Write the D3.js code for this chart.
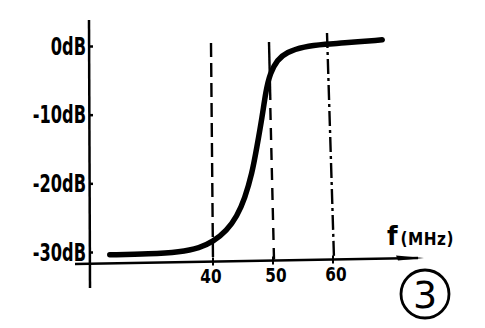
<!DOCTYPE html>
<html><head><meta charset="utf-8">
<script src="https://cdn.jsdelivr.net/npm/d3@7"></script>
<style>body{margin:0;background:#fff}svg{display:block}</style>
</head><body>
<script>
const freq = [22.8, 29.5, 34.5, 37.8, 40, 42.3, 44, 45.3, 46.5, 47.3, 48.2, 48.8, 49.5, 50.7, 52.3, 55, 59, 61.2, 68.2];
const gain = [-30.4, -30.3, -30.0, -29.4, -28.5, -26.9, -24.8, -22.2, -18.6, -14.8, -10.3, -6.6, -4.0, -2.0, -0.9, -0.1, 0.3, 0.4, 0.9];
const yTicks = [0, -10, -20, -30];
const yTickLabels = ["0dB", "-10dB", "-20dB", "-30dB"];
const xTicks = [40, 50, 60];
const markerLines = [40, 50, 60];

const W = 485, H = 328;
const svg = d3.select("body").append("svg").attr("width", W).attr("height", H);

const x = d3.scaleLinear().domain([40, 50]).range([213, 273]);
const y = d3.scaleLinear().domain([0, -30]).range([46, 252]);
const axisX = 89;
const font = "'DejaVu Sans Condensed','DejaVu Sans',sans-serif";
const axisYAt = px => 264 - (px - 75) * 6 / 345;
function squeeze(sel, k) {
  sel.each(function () {
    const w = this.getComputedTextLength();
    d3.select(this).attr("textLength", w * k).attr("lengthAdjust", "spacingAndGlyphs");
  });
}

// y axis
svg.append("line").attr("x1", axisX).attr("x2", axisX + 1).attr("y1", 20).attr("y2", 288)
  .attr("stroke", "#000").attr("stroke-width", 2.5);
// x axis
svg.append("line").attr("x1", 75).attr("x2", 418).attr("y1", axisYAt(75)).attr("y2", axisYAt(418))
  .attr("stroke", "#000").attr("stroke-width", 2.5);
svg.append("path").attr("d", `M396,${axisYAt(396)-3} L424,${axisYAt(424)} L398,${axisYAt(398)+2} Z`).attr("fill", "#000");

// y ticks
const yAx = svg.append("g").attr("transform", `translate(${axisX},0)`)
  .call(d3.axisLeft(y).tickValues(yTicks).tickSize(-4).tickPadding(3).tickFormat((d, i) => yTickLabels[i]));
yAx.select(".domain").remove();
yAx.selectAll(".tick line").attr("stroke", "#000").attr("stroke-width", 2.5);
yAx.selectAll(".tick text").attr("font-family", font).attr("font-weight", "bold")
  .attr("font-size", 25).attr("x", -3).attr("fill", "#000").call(squeeze, 0.72);

// x ticks
const xAx = svg.append("g").call(d3.axisBottom(x).tickValues(xTicks).tickSize(0).tickFormat(d3.format("d")));
xAx.select(".domain").remove();
xAx.selectAll(".tick").attr("transform", d => `translate(${x(d)},${axisYAt(x(d))})`);
xAx.selectAll(".tick line").attr("stroke", "#000").attr("stroke-width", 2).attr("y1", -4).attr("y2", 4);
xAx.selectAll(".tick text").attr("font-family", font).attr("font-weight", "bold")
  .attr("font-size", 20).attr("y", 6).attr("dx", d => d === 40 ? -2 : 3).attr("dy", "0.75em").attr("fill", "#000")
  .call(squeeze, 0.85);

// marker lines
const styles = {40: "14,6", 50: "12,8", 60: "15,4,3,4"};
const tops = {40: [211, 43], 50: [269, 42], 60: [327, 33]};
markerLines.forEach(f => {
  const x0 = tops[f][0], y0 = tops[f][1];
  const x1 = x(f) + (f === 40 ? 0 : 1), y1 = axisYAt(x(f)) - 1;
  if (f === 50) {
    const t = (100 - y0) / (y1 - y0);
    const xm = x0 + (x1 - x0) * t;
    svg.append("line").attr("x1", x0).attr("y1", y0).attr("x2", xm).attr("y2", 100)
      .attr("stroke", "#000").attr("stroke-width", 2.4);
    svg.append("line").attr("x1", xm).attr("y1", 108).attr("x2", x1).attr("y2", y1)
      .attr("stroke", "#000").attr("stroke-width", 2.4).attr("stroke-dasharray", styles[f]);
  } else {
    svg.append("line").attr("x1", x0).attr("y1", y0).attr("x2", x1).attr("y2", y1)
      .attr("stroke", "#000").attr("stroke-width", 2.4).attr("stroke-dasharray", styles[f]);
  }
});

// curve
const line = d3.line().x((d, i) => x(freq[i])).y((d, i) => y(gain[i])).curve(d3.curveBasis);
svg.append("path").datum(freq).attr("d", line).attr("fill", "none")
  .attr("stroke", "#000").attr("stroke-width", 5.5).attr("stroke-linecap", "round");

// axis label
const lab = svg.append("text").attr("x", 387).attr("y", 245).attr("font-family", font).attr("font-weight", "bold").attr("fill", "#000");
lab.append("tspan").text("f").attr("font-size", 27);
lab.append("tspan").text("(MHz)").attr("font-size", 17).attr("dx", 3).attr("letter-spacing", 0.5);

// circled 3
svg.append("circle").attr("cx", 425).attr("cy", 294).attr("r", 24).attr("fill", "none")
  .attr("stroke", "#000").attr("stroke-width", 2.8);
svg.append("text").attr("x", 425).attr("y", 295).attr("text-anchor", "middle").attr("dominant-baseline", "central")
  .attr("font-family", "'DejaVu Sans',sans-serif").attr("font-size", 38).attr("fill", "#000").text("3");
</script>
</body></html>
